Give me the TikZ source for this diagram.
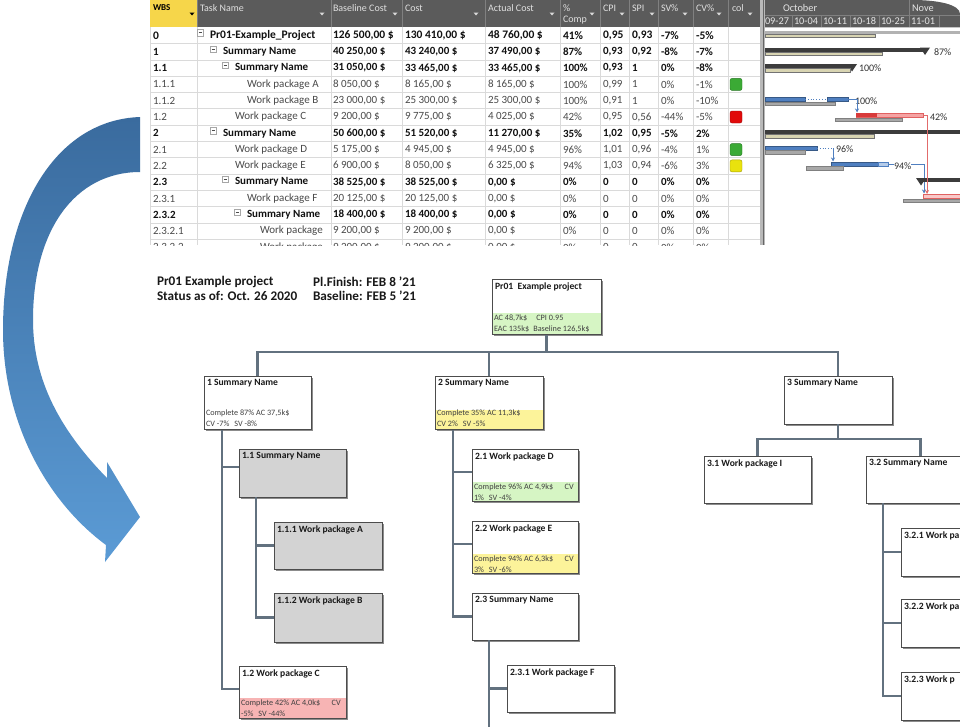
\documentclass[tikz,border=0pt]{standalone}
\usepackage{fontspec}
\setmainfont{Carlito}
\usetikzlibrary{calc,shadows,arrows.meta}
\definecolor{hdrgray}{HTML}{5B5B5B}
\definecolor{hdrline}{HTML}{808080}
\definecolor{wbsyel}{HTML}{F6D64A}
\definecolor{gridc}{HTML}{DADADA}
\definecolor{wptext}{HTML}{4A4A4A}
\definecolor{sumtext}{HTML}{111111}
\definecolor{connc}{HTML}{62717F}
\definecolor{pkgray}{HTML}{D3D3D3}
\definecolor{bandgreen}{HTML}{D6F5C4}
\definecolor{bandyellow}{HTML}{FCF39A}
\definecolor{bandpink}{HTML}{F7B4B4}
\definecolor{arrowtop}{HTML}{3A6B9E}
\definecolor{arrowbot}{HTML}{5B9BD5}
\definecolor{barblue}{HTML}{4F7FC0}
\definecolor{barlblue}{HTML}{B5CCEA}
\definecolor{bartan}{HTML}{D8D4B2}
\definecolor{bargray}{HTML}{A8A8A8}
\definecolor{bardark}{HTML}{3C3C3C}
\definecolor{barred}{HTML}{D83A3A}
\definecolor{barlred}{HTML}{F5A3A3}
\definecolor{mkgreen}{HTML}{3BAA35}
\definecolor{mkred}{HTML}{E10A0A}
\definecolor{mkyellow}{HTML}{E9E20E}
\newcommand\rowftop{\fontsize{11.5}{13}\selectfont\bfseries}
\newcommand\rowfsum{\fontsize{11}{13}\selectfont\bfseries}
\newcommand\rowfwp{\fontsize{11}{13}\selectfont}
\newcommand\wbsbox[7]{%
  \node[wbsframe, fill=#6, minimum width={#4-#2}, minimum height={#5-#3}] (#1) at ({(#2+#4)/2},{(#3+#5)/2}) {};
  \node[wbstitle] (#1t) at ({#2+3},{#3+3.5}) {#7};}
\begin{document}
\begin{tikzpicture}[x=1pt,y=-1pt,
  every node/.style={inner sep=0pt, outer sep=0pt},
  hdrtxt/.style={anchor=west, font=\fontsize{10}{11}\selectfont, text=white!88!black},
  gtxt/.style={anchor=west, font=\fontsize{10.3}{11}\selectfont, text=white!90!black},
  glabel/.style={anchor=west, font=\fontsize{10}{11}\selectfont, text=black!80},
  tanbar/.style={fill=bartan, draw=black!55, line width=0.4pt},
  graybar/.style={fill=bargray, draw=black!50, line width=0.4pt},
  bluebar/.style={fill=barblue, draw=barblue!70!black, line width=0.4pt},
  wbsframe/.style={draw=black!70, line width=0.6pt, drop shadow={shadow xshift=1.8pt, shadow yshift=-1.8pt, opacity=0.6, fill=black!75}},
  wbstitle/.style={anchor=north west, font=\fontsize{9.6}{11}\selectfont\bfseries, text=black!90},
  wbsinfo/.style={anchor=base west, font=\fontsize{8.2}{9}\selectfont, text=black!75},
  wbshead/.style={anchor=west, font=\fontsize{13.2}{15}\selectfont\bfseries, text=black!90},
  conn/.style={draw=connc, line width=2.4pt},
  border/.style={draw=black!70, line width=0.6pt}]
\useasboundingbox (0,0) rectangle (960,726);
\clip (0,0) rectangle (960,726);
\fill[white] (0,0) rectangle (960,726);

% ---------- big curved arrow ----------
\shade[top color=arrowtop, bottom color=arrowbot]
  (140,117) .. controls (55,120) and (3,210) .. (3,330)
  .. controls (3,420) and (45,500) .. (106,545)
  -- (105,562) -- (140,517) -- (107,462) -- (107,478)
  .. controls (60,430) and (33,380) .. (33,320)
  .. controls (33,230) and (75,172) .. (140,172) -- cycle;

% ---------- table ----------
\begin{scope}
\clip (150,0) rectangle (760,245);
\fill[white] (150,0) rectangle (760,245);
\fill[hdrgray] (150,0) rectangle (760,27.35);
\fill[wbsyel] (150,0) rectangle (197,27.35);
\foreach \k in {1,...,14} \draw[gridc, line width=0.8pt] (150,{27.35+16.3*\k}) -- (760,{27.35+16.3*\k});
\foreach \cx in {197,331,402,485,560,600,629,658,693,728} {
  \draw[gridc, line width=0.8pt] (\cx,27.35) -- (\cx,245);
  \draw[hdrline, line width=0.6pt] (\cx,0) -- (\cx,27.35);}
\draw[gridc, line width=1pt] (150.5,27) -- (150.5,245);
\node[hdrtxt, text=black, font=\fontsize{9}{10}\selectfont\bfseries] (hWBS) at (153,8) {WBS};
\node[hdrtxt] (hTask) at (200,8) {Task Name};
\node[hdrtxt] (hBase) at (333,8) {Baseline Cost};
\node[hdrtxt] (hCost) at (405,8) {Cost};
\node[hdrtxt] (hAct) at (488,8) {Actual Cost};
\node[hdrtxt] (hPc) at (563,8) {\%};
\node[hdrtxt] (hComp) at (563,20) {Comp};
\node[hdrtxt] (hCPI) at (603,8) {CPI};
\node[hdrtxt] (hSPI) at (632,8) {SPI};
\node[hdrtxt] (hSV) at (661,8) {SV\%};
\node[hdrtxt] (hCV) at (696,8) {CV\%};
\node[hdrtxt] (hCol) at (732,8) {col};
\fill[black] (189.5,12.5) -- (194.5,12.5) -- (192,15.5) -- cycle;
\foreach \dx in {322,395,476,552,592,622,652,685,719,750}
  \fill[white!85!black] ({\dx-2.5},12.5) -- ({\dx+2.5},12.5) -- (\dx,15.5) -- cycle;
\foreach \rI/\rW/\rF/\rC/\rM/\rX/\rN/\rBC/\rCO/\rAC/\rPC/\rCPI/\rSPI/\rSV/\rCV in {
 0/0/\rowftop/sumtext/1/210/Pr01-Example\_Project/{126 500,00 \$}/{130 410,00 \$}/{48 760,00 \$}/41\%/{0,95}/{0,93}/-7\%/-5\%,
 1/1/\rowfsum/sumtext/1/223/Summary Name/{40 250,00 \$}/{43 240,00 \$}/{37 490,00 \$}/87\%/{0,93}/{0,92}/-8\%/-7\%,
 2/1.1/\rowfsum/sumtext/1/235/Summary Name/{31 050,00 \$}/{33 465,00 \$}/{33 465,00 \$}/100\%/{0,93}/1/0\%/-8\%,
 3/1.1.1/\rowfwp/wptext/0/247/Work package A/{8 050,00 \$}/{8 165,00 \$}/{8 165,00 \$}/100\%/{0,99}/1/0\%/-1\%,
 4/1.1.2/\rowfwp/wptext/0/247/Work package B/{23 000,00 \$}/{25 300,00 \$}/{25 300,00 \$}/100\%/{0,91}/1/0\%/-10\%,
 5/1.2/\rowfwp/wptext/0/235/Work package C/{9 200,00 \$}/{9 775,00 \$}/{4 025,00 \$}/42\%/{0,95}/{0,56}/-44\%/-5\%,
 6/2/\rowfsum/sumtext/1/223/Summary Name/{50 600,00 \$}/{51 520,00 \$}/{11 270,00 \$}/35\%/{1,02}/{0,95}/-5\%/2\%,
 7/2.1/\rowfwp/wptext/0/235/Work package D/{5 175,00 \$}/{4 945,00 \$}/{4 945,00 \$}/96\%/{1,01}/{0,96}/-4\%/1\%,
 8/2.2/\rowfwp/wptext/0/235/Work package E/{6 900,00 \$}/{8 050,00 \$}/{6 325,00 \$}/94\%/{1,03}/{0,94}/-6\%/3\%,
 9/2.3/\rowfsum/sumtext/1/235/Summary Name/{38 525,00 \$}/{38 525,00 \$}/{0,00 \$}/0\%/0/0/0\%/0\%,
 10/2.3.1/\rowfwp/wptext/0/247/Work package F/{20 125,00 \$}/{20 125,00 \$}/{0,00 \$}/0\%/0/0/0\%/0\%,
 11/2.3.2/\rowfsum/sumtext/1/247/Summary Name/{18 400,00 \$}/{18 400,00 \$}/{0,00 \$}/0\%/0/0/0\%/0\%,
 12/2.3.2.1/\rowfwp/wptext/0/260/Work package/{9 200,00 \$}/{9 200,00 \$}/{0,00 \$}/0\%/0/0/0\%/0\%,
 13/2.3.2.2/\rowfwp/wptext/0/260/Work package/{9 200,00 \$}/{9 200,00 \$}/{0,00 \$}/0\%/0/0/0\%/0\%}{
 \pgfmathsetmacro\rY{35.5+16.3*\rI}
 \node[anchor=west, font=\rF, text=\rC] (w\rI) at (153,\rY) {\rW};
 \node[anchor=west, font=\rF, text=\rC] (n\rI) at (\rX,\rY) {\rN};
 \node[anchor=west, font=\rF, text=\rC] (bc\rI) at (333,\rY) {\rBC};
 \node[anchor=west, font=\rF, text=\rC] (co\rI) at (405,\rY) {\rCO};
 \node[anchor=west, font=\rF, text=\rC] (ac\rI) at (488,\rY) {\rAC};
 \node[anchor=west, font=\rF, text=\rC] (pc\rI) at (563,\rY) {\rPC};
 \node[anchor=west, font=\rF, text=\rC] (cpi\rI) at (603,\rY) {\rCPI};
 \node[anchor=west, font=\rF, text=\rC] (spi\rI) at (632,\rY) {\rSPI};
 \node[anchor=west, font=\rF, text=\rC] (sv\rI) at (661,\rY) {\rSV};
 \node[anchor=west, font=\rF, text=\rC] (cv\rI) at (696,\rY) {\rCV};
 \ifnum\rM=1
   \draw[gray!70, fill=white, line width=0.5pt] ({\rX-13},{\rY-6}) rectangle ({\rX-6.5},{\rY+0.5});
   \draw[black!70, line width=0.6pt] ({\rX-11.5},{\rY-2.75}) -- ({\rX-8},{\rY-2.75});
 \fi
}
\foreach \mi/\mc in {3/mkgreen,5/mkred,7/mkgreen,8/mkyellow}
  \filldraw[fill=\mc, draw=\mc!70!black, line width=0.4pt, rounded corners=2pt]
    (730,{35.5+16.3*\mi-6}) rectangle (742,{35.5+16.3*\mi+6});
\end{scope}

% ---------- gantt ----------
\begin{scope}
\clip (760,0) rectangle (960,245);
\fill[white] (760,0) rectangle (960,245);
\fill[gray!55] (760,0) rectangle (765,245);
\draw[black!60, line width=0.8pt] (763.5,0) -- (763.5,245);
\fill[hdrgray] (765,0) -- (912,0) .. controls (940,0) and (960,5) .. (960,14) -- (960,27.35) -- (765,27.35) -- cycle;
\draw[hdrline, line width=0.5pt] (765,15) -- (960,15);
\draw[hdrline, line width=0.5pt] (909,0) -- (909,27.35);
\foreach \sx in {792,821,850,879,939} \draw[hdrline, line width=0.5pt] (\sx,15) -- (\sx,27.35);
\node[gtxt] (gOct) at (783,8) {October};
\node[gtxt] (gNov) at (912,8) {Nove};
\node[gtxt] (d1) at (765,21.5) {09-27};
\node[gtxt] (d2) at (794,21.5) {10-04};
\node[gtxt] (d3) at (823,21.5) {10-11};
\node[gtxt] (d4) at (852,21.5) {10-18};
\node[gtxt] (d5) at (881,21.5) {10-25};
\node[gtxt] (d6) at (911,21.5) {11-01};
% row 0
\fill[gray!60] (765,30.5) rectangle (960,33.5);
\path[tanbar] (765,34) rectangle (875,37.5);
% row 1
\fill[bardark] (765,47.5) rectangle (925,51.5);
\fill[bardark] (920,47.5) -- (930,47.5) -- (925,55) -- cycle;
\path[tanbar] (765,52) rectangle (882,55.5);
\node[glabel] (g1) at (934,51.8) {87\%};
% row 1.1
\fill[bardark] (765,64) rectangle (852,68);
\fill[bardark] (847,64) -- (857,64) -- (852,71.5) -- cycle;
\path[tanbar] (765,68.5) rectangle (850,72);
\node[glabel] (g2) at (859,68.1) {100\%};
% row 1.1.2
\path[bluebar] (765,97) rectangle (805,101);
\draw[barblue, dotted, line width=0.8pt] (805,99) -- (827,99);
\path[bluebar] (827,97) rectangle (848,101);
\path[graybar] (765,102) rectangle (835,105);
\node[glabel] (g4) at (855,100.7) {100\%};
\draw[barblue, line width=0.7pt, -{Stealth[length=4pt,width=4pt]}] (848,99) -| (857,112.5);
% row 1.2
\filldraw[fill=barlred, draw=barred!80, line width=0.4pt] (856,113) rectangle (923,117);
\fill[barred] (856,113) rectangle (877,117);
\path[graybar] (835,118) rectangle (902,121.5);
\node[glabel] (g5) at (930,117) {42\%};
% row 2
\fill[bardark] (765,130) rectangle (960,134);
\path[tanbar] (765,134.5) rectangle (874,138);
% row 2.1
\path[bluebar] (765,146) rectangle (817,150);
\path[graybar] (765,150.5) rectangle (805,154);
\draw[barblue, dotted, line width=0.8pt] (817,148) -- (833,148);
\draw[barblue, line width=0.7pt, -{Stealth[length=4pt,width=4pt]}] (833,148) -- (833,161.5);
\node[glabel] (g7) at (836,149.6) {96\%};
% row 2.2
\path[bluebar] (831,162) rectangle (878,166);
\filldraw[fill=barlblue, draw=barblue, line width=0.4pt] (878,162) rectangle (888,166);
\path[graybar] (806,166.5) rectangle (843,170);
\draw[barblue, line width=0.7pt, -{Stealth[length=4pt,width=4pt]}] (888,164) -| (924,193.5);
\node[glabel, fill=white] (g8) at (894,165.9) {94\%};
% row 2.3
\fill[bardark] (921,178) rectangle (960,182);
\fill[bardark] (916,178) -- (926,178) -- (921,185.5) -- cycle;
% row 2.3.1
\filldraw[fill=barlred!60!white, draw=barred!80, line width=0.5pt] (923,194) rectangle (962,198);
\path[graybar] (903,199) rectangle (962,202.5);
\draw[barred!75, line width=0.8pt, -{Stealth[length=4pt,width=4pt]}] (923,115) -| (927,194);
\end{scope}

% ---------- WBS chart header ----------
\node[wbshead] (t1) at (157,282) {Pr01 Example project};
\node[wbshead] (t2) at (157,296) {Status as of: Oct. 26 2020};
\node[wbshead] (t3) at (313,282) {Pl.Finish: FEB 8 '21};
\node[wbshead] (t4) at (313,296) {Baseline: FEB 5 '21};

\coordinate (b23end) at (489,730);

% ---------- boxes ----------
\wbsbox{root}{492}{279}{601}{334}{white}{Pr01\ \ Example project}
\wbsbox{b1}{204}{376}{311}{429}{white}{1 Summary Name}
\wbsbox{b2}{435}{376}{543}{429}{white}{2 Summary Name}
\wbsbox{b3}{784}{376}{892}{424}{white}{3 Summary Name}
\wbsbox{b11}{239}{449}{346}{497}{pkgray}{1.1 Summary Name}
\wbsbox{b111}{274}{522}{382}{569}{pkgray}{1.1.1 Work package A}
\wbsbox{b112}{274}{593}{382}{642}{pkgray}{1.1.2 Work package B}
\wbsbox{b12}{239}{666}{346}{718}{white}{1.2 Work package C}
\wbsbox{b21}{472}{449}{578}{501}{white}{2.1 Work package D}
\wbsbox{b22}{472}{521}{578}{573}{white}{2.2 Work package E}
\wbsbox{b23}{472}{593}{578}{640}{white}{2.3 Summary Name}
\wbsbox{b231}{507}{665}{614}{712}{white}{2.3.1 Work package F}
\wbsbox{b31}{704}{456}{811}{503}{white}{3.1 Work package I}
\wbsbox{b32}{866}{456}{975}{503}{white}{3.2 Summary Name}
\wbsbox{b321}{901}{528}{975}{576}{white}{3.2.1 Work pa}
\wbsbox{b322}{901}{599}{975}{647}{white}{3.2.2 Work pa}
\wbsbox{b323}{901}{672}{975}{720}{white}{3.2.3 Work p}

% ---------- connectors ----------
\draw[conn] (root.south) -- ++(0,18) -| (b1.north);
\draw[conn] (root.south) -- ++(0,18) -| (b2.north);
\draw[conn] (root.south) -- ++(0,18) -| (b3.north);
\draw[conn] ($(b1.south west)+(18,0)$) |- ([yshift=6pt]b11.west);
\draw[conn] ($(b1.south west)+(18,0)$) |- ([yshift=3pt]b12.west);
\draw[conn] ($(b11.south west)+(17,0)$) |- (b111.west);
\draw[conn] ($(b11.south west)+(17,0)$) |- (b112.west);
\draw[conn] ($(b2.south west)+(18,0)$) |- ([yshift=3pt]b21.west);
\draw[conn] ($(b2.south west)+(18,0)$) |- ([yshift=3pt]b22.west);
\draw[conn] ($(b2.south west)+(18,0)$) |- (b23.west);
\draw[conn] ($(b23.south west)+(17,0)$) -- (b23end);
\draw[conn] ($(b23.south west)+(17,0)$) |- (b231.west);
\draw[conn] (b3.south) -- ++(0,15) -| (b31.north);
\draw[conn] (b3.south) -- ++(0,15) -| (b32.north);
\draw[conn] ($(b32.south west)+(17,0)$) |- (b321.west);
\draw[conn] ($(b32.south west)+(17,0)$) |- (b322.west);
\draw[conn] ($(b32.south west)+(17,0)$) |- (b323.west);

% ---------- colour bands and info ----------
\fill[bandgreen] (492.3,313) rectangle (600.7,333.7);
\fill[bandyellow] (435.3,410) rectangle (542.7,428.7);
\fill[bandpink] (239.3,698) rectangle (345.7,717.7);
\fill[bandgreen] (472.3,482) rectangle (577.7,500.7);
\fill[bandyellow] (472.3,554) rectangle (577.7,572.7);
\foreach \bn in {root,b1,b2,b12,b21,b22}
  \draw[border] (\bn.north west) rectangle (\bn.south east);

\node[wbsinfo] (root1) at (494,320.5) {AC 48,7k\$\hspace{1.1em}CPI 0.95};
\node[wbsinfo] (root2) at (494,331) {EAC 135k\$\hspace{0.5em}Baseline 126,5k\$};
\node[wbsinfo] (b1i1) at (206,415.5) {Complete 87\% AC 37,5k\$};
\node[wbsinfo] (b1i2) at (206,426.5) {CV -7\%\hspace{0.6em}SV -8\%};
\node[wbsinfo] (b2i1) at (437,415.5) {Complete 35\% AC 11,3k\$};
\node[wbsinfo] (b2i2) at (437,426.5) {CV 2\%\hspace{0.6em}SV -5\%};
\node[wbsinfo] (b12i1) at (241,705.5) {Complete 42\% AC 4,0k\$\hspace{1.4em}CV};
\node[wbsinfo] (b12i2) at (241,716) {-5\%\hspace{0.6em}SV -44\%};
\node[wbsinfo] (b21i1) at (474,489.5) {Complete 96\% AC 4,9k\$\hspace{1.4em}CV};
\node[wbsinfo] (b21i2) at (474,500) {1\%\hspace{0.6em}SV -4\%};
\node[wbsinfo] (b22i1) at (474,561.5) {Complete 94\% AC 6,3k\$\hspace{1.4em}CV};
\node[wbsinfo] (b22i2) at (474,572) {3\%\hspace{0.6em}SV -6\%};
\end{tikzpicture}
\end{document}
